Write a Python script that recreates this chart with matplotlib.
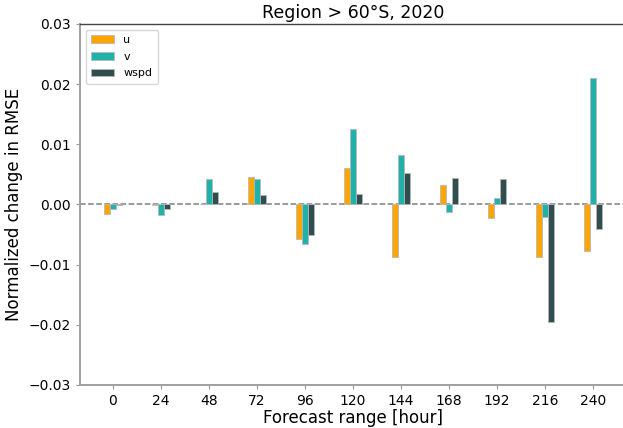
import numpy as np
import matplotlib.pyplot as plt

hours = [0, 24, 48, 72, 96, 120, 144, 168, 192, 216, 240]
u_vals = [-0.0016, -0.0001, 0.0001, 0.0046, -0.0057, 0.0060, -0.0088, 0.0032, -0.0022, -0.0087, -0.0077]
v_vals = [-0.0008, -0.0018, 0.0042, 0.0042, -0.0065, 0.0125, 0.0082, -0.0013, 0.0010, -0.0020, 0.0211]
wspd_vals = [-0.0001, -0.0007, 0.0020, 0.0016, -0.0050, 0.0018, 0.0052, 0.0044, 0.0042, -0.0195, -0.0040]

series = [('u', u_vals, 'orange'),
          ('v', v_vals, 'lightseagreen'),
          ('wspd', wspd_vals, 'darkslategray')]

fig = plt.figure(figsize=(6.23, 4.28), dpi=100)
ax = fig.add_axes([0.1284, 0.1005, 0.8764, 0.8435])

x = np.array(hours, dtype=float)
width = 3.0
for i, (name, vals, color) in enumerate(series):
    ax.bar(x + (i - 1) * width, vals, width=width, color=color,
           edgecolor='#b8b8b8', linewidth=0.6, label=name)

ax.axhline(0, color='gray', linestyle='--', linewidth=1.1, zorder=0.5)

ax.set_xlim(-16.5, 256.5)
ax.set_ylim(-0.03, 0.03)
ax.set_xticks(hours)
ax.set_yticks([-0.03, -0.02, -0.01, 0.0, 0.01, 0.02, 0.03])
ax.tick_params(axis='both', labelsize=10, length=3, color='#999999')

for side in ('left', 'bottom'):
    ax.spines[side].set_color('#a0a0a0')
    ax.spines[side].set_linewidth(1.4)
ax.spines['top'].set_color('#444444')
ax.spines['top'].set_linewidth(1.0)
ax.spines['right'].set_visible(False)

ax.set_title('Region > 60°S, 2020', fontsize=12.5, pad=4)
ax.set_xlabel('Forecast range [hour]', fontsize=12, labelpad=1)
ax.set_ylabel('Normalized change in RMSE', fontsize=12, labelpad=4)

ax.legend(loc='upper left', fontsize=8, handlelength=2.1,
          borderpad=0.5, labelspacing=0.6)

fig.savefig('out.png', dpi=100)
